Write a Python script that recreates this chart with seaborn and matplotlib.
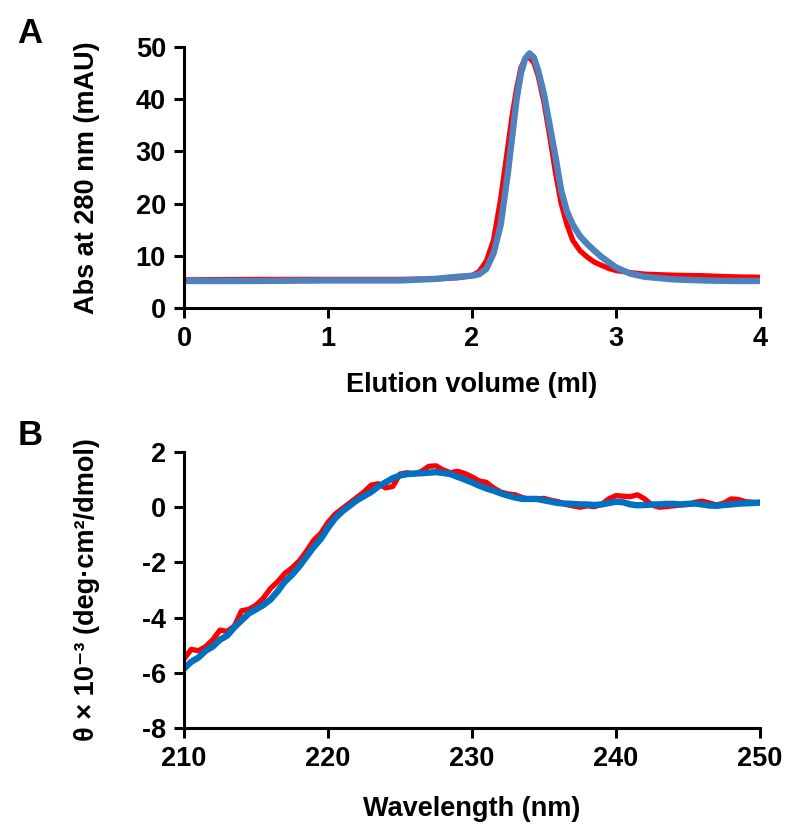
import numpy as np
import matplotlib
matplotlib.use("Agg")
import matplotlib.pyplot as plt
import seaborn as sns

# Panel A: size exclusion chromatography
elution_ml = [0, 0.5, 1.0, 1.5, 1.75, 1.9, 2.0, 2.05, 2.1, 2.15, 2.2, 2.25, 2.28, 2.31,
              2.34, 2.37, 2.40, 2.43, 2.46, 2.50, 2.54, 2.58, 2.62, 2.66, 2.70, 2.75,
              2.80, 2.85, 2.90, 2.95, 3.0, 3.1, 3.2, 3.4, 3.6, 3.8, 4.0]
abs_red = [5.4, 5.5, 5.5, 5.5, 5.6, 5.8, 6.2, 7.0, 9.0, 13, 21, 31, 37, 42,
           46, 47.8, 48, 47, 44.5, 39.5, 33, 26, 20, 16, 13, 11,
           9.8, 8.8, 8.2, 7.6, 7.2, 6.8, 6.5, 6.3, 6.2, 6.0, 5.9]
abs_blue = [5.2, 5.2, 5.3, 5.3, 5.6, 6.0, 6.2, 6.5, 7.5, 10.5, 16, 26, 33, 40,
            45, 47.8, 48.8, 48, 45.5, 41, 35, 29, 22.5, 18.5, 16, 13.8,
            12.3, 11, 9.8, 8.8, 7.8, 6.6, 6.0, 5.5, 5.3, 5.2, 5.2]

# Panel B: CD spectra, 210-250 nm in 0.5 nm steps
wavelength = np.arange(210, 250.01, 0.5)
cd_red = [-5.5, -5.15, -5.2, -5.05, -4.8, -4.45, -4.5, -4.3, -3.75, -3.7,
          -3.55, -3.3, -2.95, -2.7, -2.4, -2.2, -1.95, -1.6, -1.2, -0.95,
          -0.55, -0.25, -0.05, 0.15, 0.35, 0.55, 0.8, 0.85, 0.7, 0.75,
          1.2, 1.25, 1.2, 1.3, 1.48, 1.5, 1.35, 1.25, 1.3, 1.22,
          1.1, 0.95, 0.9, 0.7, 0.55, 0.48, 0.45, 0.35, 0.28, 0.3,
          0.32, 0.25, 0.2, 0.1, 0.05, 0.0, 0.05, 0.02, 0.1, 0.3,
          0.42, 0.4, 0.38, 0.45, 0.3, 0.08, 0.0, 0.02, 0.05, 0.08,
          0.1, 0.18, 0.22, 0.15, 0.08, 0.15, 0.3, 0.28, 0.2, 0.18, 0.15]
cd_blue = [-5.85, -5.6, -5.45, -5.2, -5.05, -4.8, -4.65, -4.35, -4.1, -3.85,
           -3.7, -3.55, -3.35, -3.05, -2.7, -2.45, -2.15, -1.8, -1.45, -1.15,
           -0.75, -0.4, -0.15, 0.05, 0.25, 0.4, 0.55, 0.75, 0.9, 1.05,
           1.15, 1.2, 1.22, 1.23, 1.25, 1.27, 1.24, 1.2, 1.1, 1.0,
           0.9, 0.78, 0.68, 0.6, 0.5, 0.42, 0.35, 0.3, 0.3, 0.3,
           0.25, 0.2, 0.15, 0.13, 0.12, 0.1, 0.1, 0.08, 0.1, 0.15,
           0.2, 0.18, 0.1, 0.07, 0.08, 0.1, 0.1, 0.12, 0.12, 0.1,
           0.12, 0.13, 0.1, 0.06, 0.05, 0.08, 0.1, 0.13, 0.14, 0.15, 0.17]

sns.set_style("ticks")
plt.rcParams["font.family"] = ["Liberation Sans", "DejaVu Sans"]
plt.rcParams["font.weight"] = "bold"
plt.rcParams["axes.labelweight"] = "bold"
plt.rcParams["axes.unicode_minus"] = False
plt.rcParams["text.color"] = "black"
plt.rcParams["axes.labelcolor"] = "black"

FS = 19.5

fig = plt.figure(figsize=(7.85, 8.26), dpi=100)
ax_a = fig.add_axes([0.2344, 0.627, 0.7336, 0.316])
ax_b = fig.add_axes([0.2344, 0.1186, 0.7336, 0.3342])


def style_axis(ax):
    for side in ["top", "right"]:
        ax.spines[side].set_visible(False)
    for side in ["left", "bottom"]:
        ax.spines[side].set_linewidth(2.2)
        ax.spines[side].set_color("black")
    ax.tick_params(axis="both", direction="out", length=7, width=2.2,
                   labelsize=FS, colors="black", pad=6)
    for label in ax.get_xticklabels() + ax.get_yticklabels():
        label.set_fontweight("bold")


sns.lineplot(x=elution_ml, y=abs_red, ax=ax_a, color="#ff0000", lw=3.8)
sns.lineplot(x=elution_ml, y=abs_blue, ax=ax_a, color="#4f81bd", lw=4.6)
ax_a.set_xlim(0, 4)
ax_a.set_ylim(0, 50)
ax_a.set_xticks([0, 1, 2, 3, 4])
ax_a.set_yticks([0, 10, 20, 30, 40, 50])
ax_a.set_xlabel("Elution volume (ml)", fontsize=FS, fontweight="bold")
ax_a.set_ylabel("Abs at 280 nm (mAU)", fontsize=FS, fontweight="bold")
ax_a.xaxis.set_label_coords(0.5, -0.245)
ax_a.yaxis.set_label_coords(-0.146, 0.5)
style_axis(ax_a)

sns.lineplot(x=wavelength, y=cd_red, ax=ax_b, color="#ff0000", lw=3.8)
sns.lineplot(x=wavelength, y=cd_blue, ax=ax_b, color="#0070c0", lw=4.6)
ax_b.set_xlim(210, 250)
ax_b.set_ylim(-8, 2)
ax_b.set_xticks([210, 220, 230, 240, 250])
ax_b.set_yticks([-8, -6, -4, -2, 0, 2])
ax_b.set_xlabel("Wavelength (nm)", fontsize=FS, fontweight="bold")
ax_b.set_ylabel("θ × 10⁻³ (deg·cm²/dmol)", fontsize=FS, fontweight="bold")
ax_b.xaxis.set_label_coords(0.5, -0.246)
ax_b.yaxis.set_label_coords(-0.146, 0.5)
style_axis(ax_b)

fig.text(0.038, 0.960, "A", fontsize=25, fontweight="bold", va="center", ha="center")
fig.text(0.038, 0.473, "B", fontsize=25, fontweight="bold", va="center", ha="center")

fig.savefig("out.png", dpi=100)
